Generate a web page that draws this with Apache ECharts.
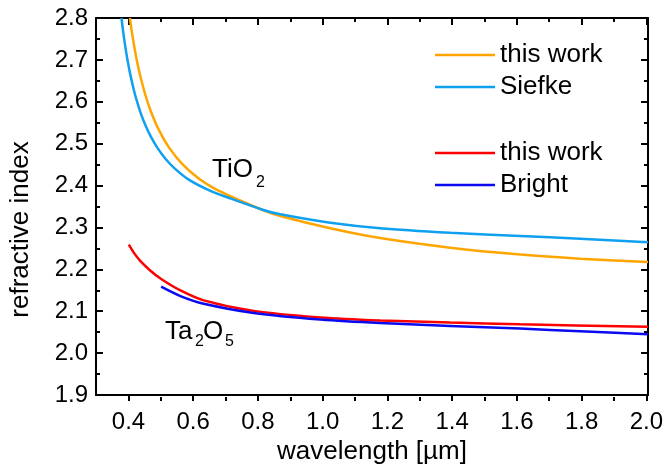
<!DOCTYPE html>
<html>
<head>
<meta charset="utf-8">
<script src="https://cdn.jsdelivr.net/npm/echarts@6/dist/echarts.min.js"></script>
<style>html,body{margin:0;padding:0;background:#fff}#c{width:666px;height:470px}</style>
</head>
<body>
<div id="c"></div>
<script>
// TiO2 - this work
const tioWorkX = [0.4043, 0.4092, 0.4154, 0.4215, 0.4292, 0.4369, 0.4523, 0.4677, 0.4923, 0.5240, 0.5652, 0.6163, 0.6625, 0.7138, 0.8154, 0.8677, 1.0215, 1.1754, 1.3908, 1.6062, 1.7908, 2.0];
const tioWorkY = [2.8000, 2.7727, 2.7427, 2.7159, 2.6860, 2.6597, 2.6156, 2.5798, 2.5347, 2.4917, 2.4518, 2.4168, 2.3937, 2.3745, 2.3411, 2.3275, 2.2981, 2.2746, 2.2516, 2.2352, 2.2253, 2.2173];
// TiO2 - Siefke
const siefkeX = [0.3785, 0.3831, 0.3877, 0.3938, 0.4000, 0.4062, 0.4154, 0.4246, 0.4369, 0.4523, 0.4677, 0.4892, 0.5138, 0.5446, 0.5855, 0.6471, 0.7138, 0.8154, 0.8677, 1.0215, 1.1754, 1.3908, 1.6062, 1.7908, 2.0];
const siefkeY = [2.8000, 2.7706, 2.7448, 2.7140, 2.6870, 2.6630, 2.6318, 2.6050, 2.5749, 2.5439, 2.5185, 2.4898, 2.4640, 2.4391, 2.4142, 2.3893, 2.3693, 2.3418, 2.3313, 2.3113, 2.2982, 2.2874, 2.2796, 2.2730, 2.2646];
// Ta2O5 - this work
const taWorkX = [0.4009, 0.4185, 0.4369, 0.4677, 0.5006, 0.5600, 0.6317, 0.7855, 0.9908, 1.1754, 1.3908, 1.6062, 2.0];
const taWorkY = [2.2589, 2.2375, 2.2196, 2.1966, 2.1769, 2.1496, 2.1259, 2.1008, 2.0853, 2.0780, 2.0730, 2.0688, 2.0629];
// Ta2O5 - Bright
const brightX = [0.5006, 0.5600, 0.6317, 0.7855, 0.9908, 1.1754, 1.3908, 1.6062, 1.7908, 2.0];
const brightY = [2.1586, 2.1362, 2.1179, 2.0958, 2.0801, 2.0716, 2.0650, 2.0585, 2.0521, 2.0451];

const xMin = 0.3, xMax = 2.0, yMin = 1.9, yMax = 2.8;
const xLabelMin = 0.4;

const FONT = '"Liberation Sans", Arial, sans-serif';
const pair = (xs, ys) => xs.map((x, i) => [x, ys[i]]);

const G = {left: 96, right: 18, top: 18, bottom: 69};
const plotW = 666 - G.left - G.right;
const g1Left = G.left + (xLabelMin - xMin) / (xMax - xMin) * plotW;

const lineAxis = {lineStyle: {color: '#000', width: 2}};
const tickStyle = {color: '#000', width: 2};

const chart = echarts.init(document.getElementById('c'), null, {renderer: 'canvas'});
chart.setOption({
  animation: false,
  backgroundColor: '#fff',
  grid: [
    {left: G.left, right: G.right, top: G.top, bottom: G.bottom},
    {left: g1Left, right: G.right, top: G.top, bottom: G.bottom}
  ],
  xAxis: [
    {gridIndex: 0, type: 'value', min: xMin, max: xMax, position: 'bottom',
     axisLine: lineAxis, axisTick: {show: false}, axisLabel: {show: false}, splitLine: {show: false},
     name: 'wavelength [µm]', nameLocation: 'middle', nameGap: 44,
     nameTextStyle: {fontFamily: FONT, fontSize: 26, color: '#000'}},
    {gridIndex: 0, type: 'value', min: xMin, max: xMax, position: 'top',
     axisLine: lineAxis, axisTick: {show: false}, axisLabel: {show: false}, splitLine: {show: false}},
    {gridIndex: 1, type: 'value', min: xLabelMin, max: xMax, interval: 0.2, position: 'bottom',
     axisLine: {show: false}, splitLine: {show: false},
     axisTick: {inside: true, length: 7, lineStyle: tickStyle},
     minorTick: {show: true, splitNumber: 2, length: 4, lineStyle: tickStyle},
     axisLabel: {margin: 9, fontFamily: FONT, fontSize: 24, color: '#000', formatter: v => v.toFixed(1)}},
    {gridIndex: 1, type: 'value', min: xLabelMin, max: xMax, interval: 0.2, position: 'top',
     axisLine: {show: false}, splitLine: {show: false},
     axisTick: {inside: true, length: 7, lineStyle: tickStyle},
     minorTick: {show: true, splitNumber: 2, length: 4, lineStyle: tickStyle},
     axisLabel: {show: false}}
  ],
  yAxis: [
    {gridIndex: 0, type: 'value', min: yMin, max: yMax, interval: 0.1, position: 'left',
     axisLine: lineAxis, splitLine: {show: false},
     axisTick: {inside: true, length: 7, lineStyle: tickStyle},
     minorTick: {show: true, splitNumber: 2, length: 4, lineStyle: tickStyle},
     axisLabel: {margin: 8, fontFamily: FONT, fontSize: 24, color: '#000', formatter: v => v.toFixed(1)},
     name: 'refractive index', nameLocation: 'middle', nameGap: 62,
     nameTextStyle: {fontFamily: FONT, fontSize: 26, color: '#000', padding: [0, 46, 0, 0]}},
    {gridIndex: 0, type: 'value', min: yMin, max: yMax, interval: 0.1, position: 'right',
     axisLine: lineAxis, splitLine: {show: false},
     axisTick: {inside: true, length: 7, lineStyle: tickStyle},
     minorTick: {show: true, splitNumber: 2, length: 4, lineStyle: tickStyle},
     axisLabel: {show: false}},
    {gridIndex: 1, type: 'value', min: 0, max: 1, show: false}
  ],
  legend: [
    {orient: 'vertical', left: 435, top: 42, padding: 0, itemGap: 6, icon: 'rect', itemWidth: 60, itemHeight: 2.5,
     data: ['TiO2 this work', 'Siefke'], formatter: n => n.replace(/^\S+ /, ''),
     textStyle: {fontFamily: FONT, fontSize: 26, color: '#000', lineHeight: 26}},
    {orient: 'vertical', left: 435, top: 140, padding: 0, itemGap: 6, icon: 'rect', itemWidth: 60, itemHeight: 2.5,
     data: ['Ta2O5 this work', 'Bright'], formatter: n => n.replace(/^\S+ /, ''),
     textStyle: {fontFamily: FONT, fontSize: 26, color: '#000', lineHeight: 26}}
  ],
  series: [
    {name: 'TiO2 this work', type: 'line', xAxisIndex: 0, yAxisIndex: 0, data: pair(tioWorkX, tioWorkY),
     showSymbol: false, smooth: 0.3, lineStyle: {color: '#FFA500', width: 2.5}, itemStyle: {color: '#FFA500'}},
    {name: 'Siefke', type: 'line', xAxisIndex: 0, yAxisIndex: 0, data: pair(siefkeX, siefkeY),
     showSymbol: false, smooth: 0.3, lineStyle: {color: '#0FA0F0', width: 2.5}, itemStyle: {color: '#0FA0F0'}},
    {name: 'Ta2O5 this work', type: 'line', xAxisIndex: 0, yAxisIndex: 0, data: pair(taWorkX, taWorkY),
     showSymbol: false, smooth: 0.3, lineStyle: {color: '#FF0000', width: 2.5}, itemStyle: {color: '#FF0000'}},
    {name: 'Bright', type: 'line', xAxisIndex: 0, yAxisIndex: 0, data: pair(brightX, brightY),
     showSymbol: false, smooth: 0.3, lineStyle: {color: '#0A0AF0', width: 2.5}, itemStyle: {color: '#0A0AF0'}}
  ],
  graphic: [
    {type: 'text', left: 212, top: 157, style: {text: 'TiO', font: '26px ' + FONT, fill: '#000'}},
    {type: 'text', left: 256, top: 175, style: {text: '2', font: '16px ' + FONT, fill: '#000'}},
    {type: 'text', left: 165, top: 319, style: {text: 'Ta', font: '26px ' + FONT, fill: '#000'}},
    {type: 'text', left: 195, top: 334, style: {text: '2', font: '16px ' + FONT, fill: '#000'}},
    {type: 'text', left: 203, top: 319, style: {text: 'O', font: '26px ' + FONT, fill: '#000'}},
    {type: 'text', left: 225, top: 334, style: {text: '5', font: '16px ' + FONT, fill: '#000'}}
  ]
});
</script>
</body>
</html>
